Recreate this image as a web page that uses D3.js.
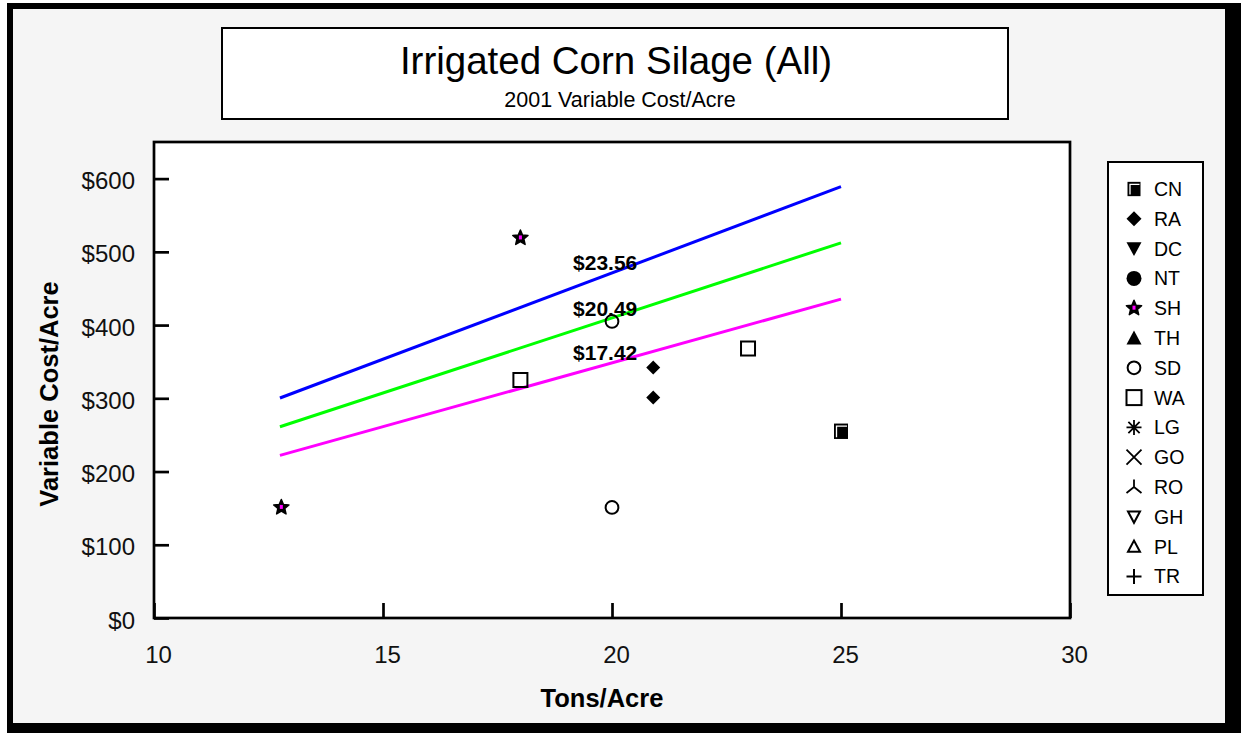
<!DOCTYPE html>
<html><head><meta charset="utf-8">
<script src="https://cdn.jsdelivr.net/npm/d3@7"></script>
<style>body{margin:0;background:#fff}svg{display:block;font-family:Arial,"Liberation Sans",sans-serif}</style>
</head><body><svg id="c" width="1241" height="733"></svg>
<script>
// ---- data ----
const legendNames = ["CN","RA","DC","NT","SH","TH","SD","WA","LG","GO","RO","GH","PL","TR"];
const xTicks = [10,15,20,25,30];
const yTicks = [0,100,200,300,400,500,600];
const cnTons = [25],          cnCost = [255];
const raTons = [20.9, 20.9],  raCost = [342, 301];
const shTons = [18, 12.78],   shCost = [519, 151];
const sdTons = [20, 20],      sdCost = [405, 151];
const waTons = [18, 22.97],   waCost = [325, 368];
const lineTons  = [12.75, 25];
const line2356  = [300.4, 589.0];
const line2049  = [261.2, 512.3];
const line1742  = [222.1, 435.5];
const lineLabels = ["$23.56","$20.49","$17.42"];
const labelTons = 19.15;
const labelCost = [475, 412, 352];

const svg = d3.select("#c");
// frame with shadow
svg.append("rect").attr("x",7).attr("y",3).attr("width",1234).attr("height",730).attr("fill","#000");
svg.append("rect").attr("x",13).attr("y",9).attr("width",1212).attr("height",714).attr("fill","#f5f5f5");

// title box
svg.append("rect").attr("x",222).attr("y",28).attr("width",786).attr("height",91)
  .attr("fill","#fff").attr("stroke","#000").attr("stroke-width",2);
svg.append("text").attr("x",616).attr("y",74).attr("text-anchor","middle")
  .attr("font-size",38.5).text("Irrigated Corn Silage (All)");
svg.append("text").attr("x",620).attr("y",107).attr("text-anchor","middle")
  .attr("font-size",21.5).text("2001 Variable Cost/Acre");

const L=154,R=1070,T=142,B=618;
const x = d3.scaleLinear().domain([10,30]).range([L,R]);
const y = d3.scaleLinear().domain([0,650]).range([B,T]);

svg.append("rect").attr("x",L).attr("y",T).attr("width",R-L).attr("height",B-T)
  .attr("fill","#fff").attr("stroke","#000").attr("stroke-width",2.7);

const gy = svg.append("g").attr("transform",`translate(${L},0)`)
  .call(d3.axisLeft(y).tickValues(yTicks).tickSizeInner(-15).tickSizeOuter(0).tickPadding(19).tickFormat(d=>"$"+d));
const gx = svg.append("g").attr("transform",`translate(0,${B})`)
  .call(d3.axisBottom(x).tickValues(xTicks).tickSizeInner(-15).tickSizeOuter(0).tickPadding(28).tickFormat(d=>d));
[gx,gy].forEach(g=>{
  g.select(".domain").remove();
  g.selectAll(".tick line").attr("stroke","#000").attr("stroke-width",2.7);
  g.selectAll(".tick text").attr("font-size",24).attr("fill","#111").attr("font-family","Arial, 'Liberation Sans', sans-serif");
});
gx.selectAll(".tick text").attr("dx",4);
gy.selectAll(".tick text").attr("dy","0.42em");

// axis titles
svg.append("text").attr("transform","translate(58,394) rotate(-90)").attr("text-anchor","middle")
  .attr("font-size",25.5).attr("font-weight","bold").text("Variable Cost/Acre");
svg.append("text").attr("x",602).attr("y",707).attr("text-anchor","middle")
  .attr("font-size",25.5).attr("font-weight","bold").text("Tons/Acre");

// lines
const lineGen = d3.line().x(d=>x(d[0])).y(d=>y(d[1]));
[[line2356,"#0000ff"],[line2049,"#00ff00"],[line1742,"#ff00ff"]].forEach(([vals,col])=>{
  svg.append("path").datum(lineTons.map((t,i)=>[t,vals[i]])).attr("d",lineGen)
    .attr("fill","none").attr("stroke",col).attr("stroke-width",3);
});
lineLabels.forEach((t,i)=>{
  svg.append("text").attr("x",x(labelTons)).attr("y",y(labelCost[i]))
    .attr("font-size",21).attr("font-weight","bold").text(t);
});

// marker drawing
function star(r){
  const pts=[];for(let i=0;i<10;i++){const a=-Math.PI/2+i*Math.PI/5;const rr=i%2?r*0.45:r;pts.push([rr*Math.cos(a),rr*Math.sin(a)]);}
  return "M"+pts.map(p=>p.join(",")).join("L")+"Z";
}
function marker(g,type,cx,cy,s){
  const G=g.append("g").attr("transform",`translate(${cx},${cy})`);
  switch(type){
    case "CN":
      G.append("rect").attr("x",-s).attr("y",-s*1.1).attr("width",2*s).attr("height",2.2*s).attr("fill","#000");
      G.append("path").attr("d",`M${-s+2.5},${s-1}V${-s*1.1+2.5}H${s-1}`).attr("stroke","#fff").attr("stroke-width",1.3).attr("fill","none");
      break;
    case "RA": G.append("path").attr("d",`M0,${-s}L${s},0L0,${s}L${-s},0Z`).attr("fill","#000"); break;
    case "DC": G.append("path").attr("d",`M${-s},${-s*0.85}L${s},${-s*0.85}L0,${s}Z`).attr("fill","#000"); break;
    case "NT": G.append("circle").attr("r",s).attr("fill","#000"); break;
    case "SH":
      G.append("path").attr("d",star(s)).attr("fill","#000").attr("stroke","#000").attr("stroke-width",1.5).attr("stroke-linejoin","round");
      G.append("rect").attr("x",-1.5).attr("y",-2.5).attr("width",3).attr("height",4).attr("fill","#ff00ff");
      break;
    case "TH": G.append("path").attr("d",`M${-s},${s*0.85}L${s},${s*0.85}L0,${-s}Z`).attr("fill","#000"); break;
    case "SD": G.append("circle").attr("r",s*0.85).attr("fill","none").attr("stroke","#000").attr("stroke-width",2); break;
    case "WA": G.append("rect").attr("x",-s).attr("y",-s).attr("width",2*s).attr("height",2*s).attr("fill","none").attr("stroke","#000").attr("stroke-width",2); break;
    case "LG": G.append("path").attr("d",`M0,${-s}V${s}M${-s},0H${s}M${-s*0.75},${-s*0.75}L${s*0.75},${s*0.75}M${s*0.75},${-s*0.75}L${-s*0.75},${s*0.75}`).attr("stroke","#000").attr("stroke-width",1.8); break;
    case "GO": G.append("path").attr("d",`M${-s},${-s}L${s},${s}M${s},${-s}L${-s},${s}`).attr("stroke","#000").attr("stroke-width",1.8); break;
    case "RO": G.append("path").attr("d",`M0,${-s}V0M0,0L${-s},${s*0.8}M0,0L${s},${s*0.8}`).attr("stroke","#000").attr("stroke-width",1.8).attr("fill","none"); break;
    case "GH": G.append("path").attr("d",`M${-s*0.8},${-s*0.7}L${s*0.8},${-s*0.7}L0,${s*0.8}Z`).attr("fill","none").attr("stroke","#000").attr("stroke-width",2); break;
    case "PL": G.append("path").attr("d",`M${-s*0.8},${s*0.7}L${s*0.8},${s*0.7}L0,${-s*0.8}Z`).attr("fill","none").attr("stroke","#000").attr("stroke-width",2); break;
    case "TR": G.append("path").attr("d",`M0,${-s}V${s}M${-s},0H${s}`).attr("stroke","#000").attr("stroke-width",2); break;
  }
}

// points
const pts = svg.append("g");
[["CN",cnTons,cnCost],["RA",raTons,raCost],["SH",shTons,shCost],["SD",sdTons,sdCost],["WA",waTons,waCost]]
  .forEach(([k,tx,cy])=>tx.forEach((t,i)=>marker(pts,k,x(t),y(cy[i]),k==="RA"?7:k==="SH"?8:k==="SD"?7.5:7)));

// legend
svg.append("rect").attr("x",1108).attr("y",162).attr("width",95).attr("height",433)
  .attr("fill","#fff").attr("stroke","#000").attr("stroke-width",2);
const lg = svg.append("g");
legendNames.forEach((n,i)=>{
  const cy = 189 + i*29.8;
  marker(lg,n,1134,cy,n==="SH"?8:n==="CN"?6.5:7.5);
  lg.append("text").attr("x",1154).attr("y",cy).attr("dy","0.36em").attr("font-size",19.5).text(n);
});
</script></body></html>
